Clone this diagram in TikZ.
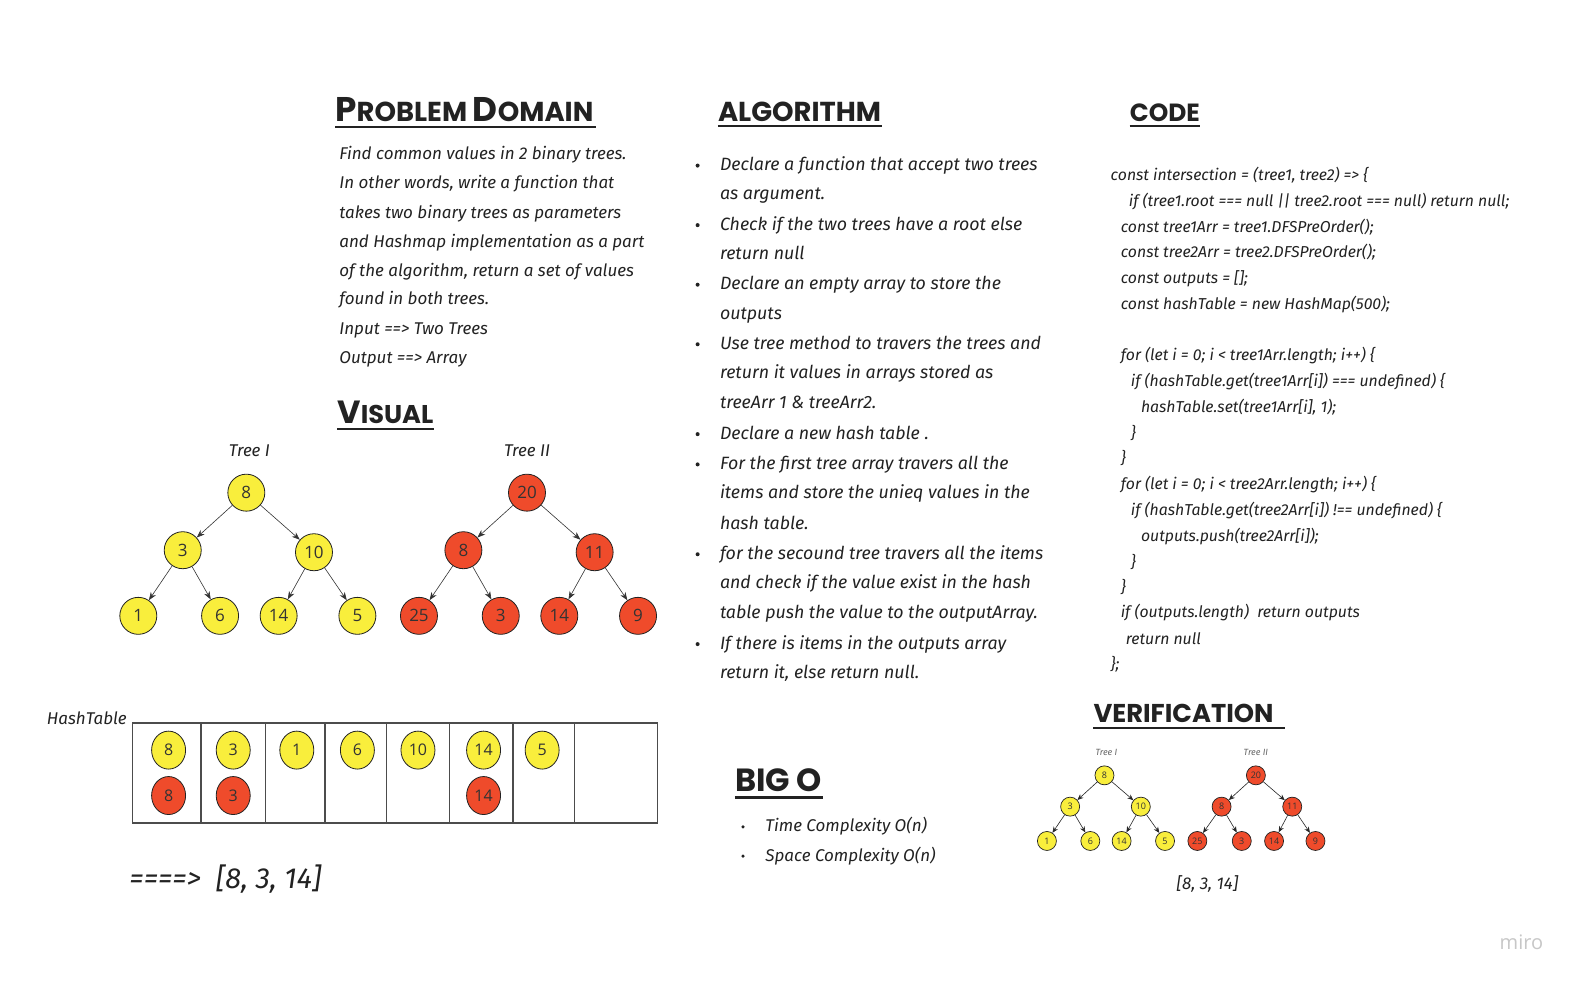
\documentclass[tikz,border=0pt]{standalone}
\usepackage{fontspec}
\setmainfont{Fira Sans}
\newfontfamily\hand{Fira Sans}
\newfontfamily\numfont{Open Sans}
\newfontfamily\headfont{Poppins}
\usetikzlibrary{arrows.meta,shapes.geometric}
\definecolor{yel}{HTML}{F9EE3C}
\definecolor{rd}{HTML}{EF4B2B}
\definecolor{ink}{HTML}{222222}
\newcommand\tl[4]{\node[txt] (#1) at (#2,#3) {#4};}
\newcommand\hd[5]{\node[anchor=base west,inner sep=0,text=ink] (#1) at (#2,#3) {\resizebox{#4pt}{!}{\headfont\bfseries\fontsize{20}{20}\selectfont #5}};}
\newcommand\bg[1]{{\fontsize{25}{25}\selectfont #1}}
\begin{document}
\begin{tikzpicture}[x=1.0096pt,y=-1.0096pt,
  txt/.style={anchor=base west,inner sep=0,text=ink,font=\hand\itshape\fontsize{17}{17}\selectfont},
  atxt/.style={anchor=base west,inner sep=0,text=ink,font=\hand\itshape\fontsize{17.8}{17}\selectfont},
  ctxt/.style={anchor=base west,inner sep=0,text=ink,font=\hand\itshape\fontsize{15.8}{15}\selectfont},
  yn/.style={circle,draw=ink,line width=0.8pt,fill=yel,minimum size=37pt,inner sep=0,text=black!80,font=\numfont\fontsize{17}{17}\selectfont},
  rn/.style={yn,fill=rd},
  syn/.style={circle,draw=ink,line width=0.7pt,fill=yel,minimum size=19pt,inner sep=0,text=black!80,font=\numfont\fontsize{9}{9}\selectfont},
  srn/.style={syn,fill=rd},
  ye/.style={ellipse,draw=ink,line width=0.8pt,fill=yel,minimum width=34pt,minimum height=38pt,inner sep=0,text=black!80,font=\numfont\fontsize{16}{16}\selectfont},
  re/.style={ye,fill=rd},
  edge/.style={-{Stealth[length=8pt,width=6pt]},draw=black!80,line width=0.6pt},
  sedge/.style={-{Stealth[length=6pt,width=5pt]},draw=black!85,line width=0.6pt},
  uline/.style={draw=ink,line width=2.4pt},
  tab/.style={draw=black!70,line width=1.4pt},
  bul/.style={circle,fill=ink,inner sep=0,minimum size=4pt}
]
\fill[white] (0,0) rectangle (1568,977);
\useasboundingbox (0,0) rectangle (1568,977);

% ---------- Headings ----------
\hd{hpd}{332}{120}{258}{\bg{P}ROBLEM \bg{D}OMAIN}
\draw[uline] (332,126) -- (590,126);
\hd{hvis}{334}{419}{96}{\bg{V}ISUAL}
\draw[uline] (334,425) -- (430,425);
\hd{halg}{711}{120}{163}{ALGORITHM}
\draw[uline] (711,125) -- (874,125);
\hd{hcode}{1119}{120}{70}{CODE}
\draw[uline] (1119,125) -- (1189,125);
\hd{hver}{1083}{716}{180}{VERIFICATION}
\draw[uline] (1083,721) -- (1273,721);
\hd{hbig}{728}{784}{87}{BIG O}
\draw[uline] (728,790) -- (815,790);

% ---------- Problem domain ----------
\tl{p1}{336}{158}{Find common values in 2 binary trees.}
\tl{p2}{336}{187}{In other words, write a function that}
\tl{p3}{336}{216}{takes two binary trees as parameters}
\tl{p4}{336}{245}{and Hashmap implementation as a part}
\tl{p5}{336}{274}{of the algorithm, return a set of values}
\tl{p6}{336}{302}{found in both trees.}
\tl{p7}{336}{331}{Input ==> Two Trees}
\tl{p8}{336}{360}{Output ==> Array}

% ---------- Algorithm ----------
\foreach \i/\yy in {1/164,2/223,3/282,4/341,5/430,6/460,7/549,8/638}{\node[bul] (b\i) at (691,\yy) {};}
\begin{scope}[txt/.style={atxt}]
\tl{a1}{713}{169}{Declare a function that accept two trees}
\tl{a2}{713}{198}{as argument.}
\tl{a3}{713}{228}{Check if the two trees have a root else}
\tl{a4}{713}{257}{return null}
\tl{a5}{713}{287}{Declare an empty array to store the}
\tl{a6}{713}{316}{outputs}
\tl{a7}{713}{346}{Use tree method to travers the trees and}
\tl{a8}{713}{375}{return it values in arrays stored as}
\tl{a9}{713}{405}{treeArr 1 \& treeArr2.}
\tl{a10}{713}{435}{Declare a new hash table .}
\tl{a11}{713}{465}{For the first tree array travers all the}
\tl{a12}{713}{494}{items and store the unieq values in the}
\tl{a13}{713}{524}{hash table.}
\tl{a14}{713}{554}{for the secound tree travers all the items}
\tl{a15}{713}{583}{and check if the value exist in the hash}
\tl{a16}{713}{613}{table push the value to the outputArray.}
\tl{a17}{713}{643}{If there is items in the outputs array}
\tl{a18}{713}{672}{return it, else return null.}
\end{scope}

% ---------- Code ----------
\begin{scope}[txt/.style={ctxt}]
\tl{c1}{1100}{179}{const intersection = (tree1, tree2) => \{}
\tl{c2}{1118}{205}{if (tree1.root === null || tree2.root === null) return null;}
\tl{c3}{1110}{230}{const tree1Arr = tree1.DFSPreOrder();}
\tl{c4}{1110}{255}{const tree2Arr = tree2.DFSPreOrder();}
\tl{c5}{1110}{281}{const outputs = [];}
\tl{c6}{1110}{307}{const hashTable = new HashMap(500);}
\tl{c7}{1110}{357}{for (let i = 0; i < tree1Arr.length; i++) \{}
\tl{c8}{1120}{383}{if (hashTable.get(tree1Arr[i]) === undefined) \{}
\tl{c9}{1130}{409}{hashTable.set(tree1Arr[i], 1);}
\tl{c10}{1120}{434}{\}}
\tl{c11}{1110}{459}{\}}
\tl{c12}{1110}{485}{for (let i = 0; i < tree2Arr.length; i++) \{}
\tl{c13}{1120}{511}{if (hashTable.get(tree2Arr[i]) !== undefined) \{}
\tl{c14}{1130}{536}{outputs.push(tree2Arr[i]);}
\tl{c15}{1120}{562}{\}}
\tl{c16}{1110}{587}{\}}
\tl{c17}{1110}{612}{if (outputs.length)\ \ return outputs}
\tl{c18}{1115}{638}{return null}
\tl{c19}{1100}{663}{\};}
\end{scope}

% ---------- Visual trees ----------
\node[txt,anchor=center] (t1lab) at (247,446) {Tree I};
\node[txt,anchor=center] (t2lab) at (522,446) {Tree II};
\node[yn] (a8) at (244,488) {8};
\node[yn] (a3) at (181,545) {3};
\node[yn] (a10) at (311,547) {10};
\node[yn] (a1) at (137,610) {1};
\node[yn] (a6) at (218,610) {6};
\node[yn] (a14) at (276,610) {14};
\node[yn] (a5) at (354,610) {5};
\node[rn] (b20) at (522,488) {20};
\node[rn] (b8) at (459,545) {8};
\node[rn] (b11) at (589,547) {11};
\node[rn] (b25) at (415,610) {25};
\node[rn] (b3) at (496,610) {3};
\node[rn] (b14) at (554,610) {14};
\node[rn] (b9) at (632,610) {9};
\foreach \p/\c in {a8/a3,a8/a10,a3/a1,a3/a6,a10/a14,a10/a5,b20/b8,b20/b11,b8/b25,b8/b3,b11/b14,b11/b9}{\draw[edge] (\p) -- (\c);}

% ---------- Hash table ----------
\node[txt,anchor=center] (htlab) at (86,711) {HashTable};
\draw[tab] (131,716) rectangle (651,815);
\foreach \xx in {199,263,322,383,445,508,569}{\draw[tab] (\xx,716) -- (\xx,815);}
\node[ye] (h8) at (167,743) {8};
\node[ye] (h3) at (231,743) {3};
\node[ye] (h1) at (294,743) {1};
\node[ye] (h6) at (354,743) {6};
\node[ye] (h10) at (414,743) {10};
\node[ye] (h14) at (479,743) {14};
\node[ye] (h5) at (537,743) {5};
\node[re] (r8) at (167,788) {8};
\node[re] (r3) at (231,788) {3};
\node[re] (r14) at (479,788) {14};
\node[txt,font=\hand\itshape\fontsize{29}{29}\selectfont] (res) at (128,880) {====>\ \ [8, 3, 14]};

% ---------- Big O ----------
\node[bul,minimum size=3.5pt] (bo1) at (736,819) {};
\node[bul,minimum size=3.5pt] (bo2) at (736,848) {};
\tl{o1}{758}{824}{Time Complexity O(n)}
\tl{o2}{758}{853}{Space Complexity O(n)}

% ---------- Verification ----------
\node[anchor=center,inner sep=0,text=black!60,font=\hand\itshape\fontsize{9}{9}\selectfont] (vt1) at (1096,745) {Tree I};
\node[anchor=center,inner sep=0,text=black!60,font=\hand\itshape\fontsize{9}{9}\selectfont] (vt2) at (1244,745) {Tree II};
\node[syn] (v8) at (1094,768) {8};
\node[syn] (v3) at (1060,799) {3};
\node[syn] (v10) at (1130,799) {10};
\node[syn] (v1) at (1037,833) {1};
\node[syn] (v6) at (1080,833) {6};
\node[syn] (v14) at (1111,833) {14};
\node[syn] (v5) at (1154,833) {5};
\node[srn] (w20) at (1244,768) {20};
\node[srn] (w8) at (1210,799) {8};
\node[srn] (w11) at (1280,799) {11};
\node[srn] (w25) at (1186,833) {25};
\node[srn] (w3) at (1230,833) {3};
\node[srn] (w14) at (1262,833) {14};
\node[srn] (w9) at (1303,833) {9};
\foreach \p/\c in {v8/v3,v8/v10,v3/v1,v3/v6,v10/v14,v10/v5,w20/w8,w20/w11,w8/w25,w8/w3,w11/w14,w11/w9}{\draw[sedge] (\p) -- (\c);}
\node[txt,anchor=center] (vres) at (1196,876) {[8, 3, 14]};

% ---------- watermark ----------
\node[anchor=center,inner sep=0,text=black!22,font=\numfont\fontsize{20}{20}\selectfont] (miro) at (1507,933) {miro};
\end{tikzpicture}
\end{document}
